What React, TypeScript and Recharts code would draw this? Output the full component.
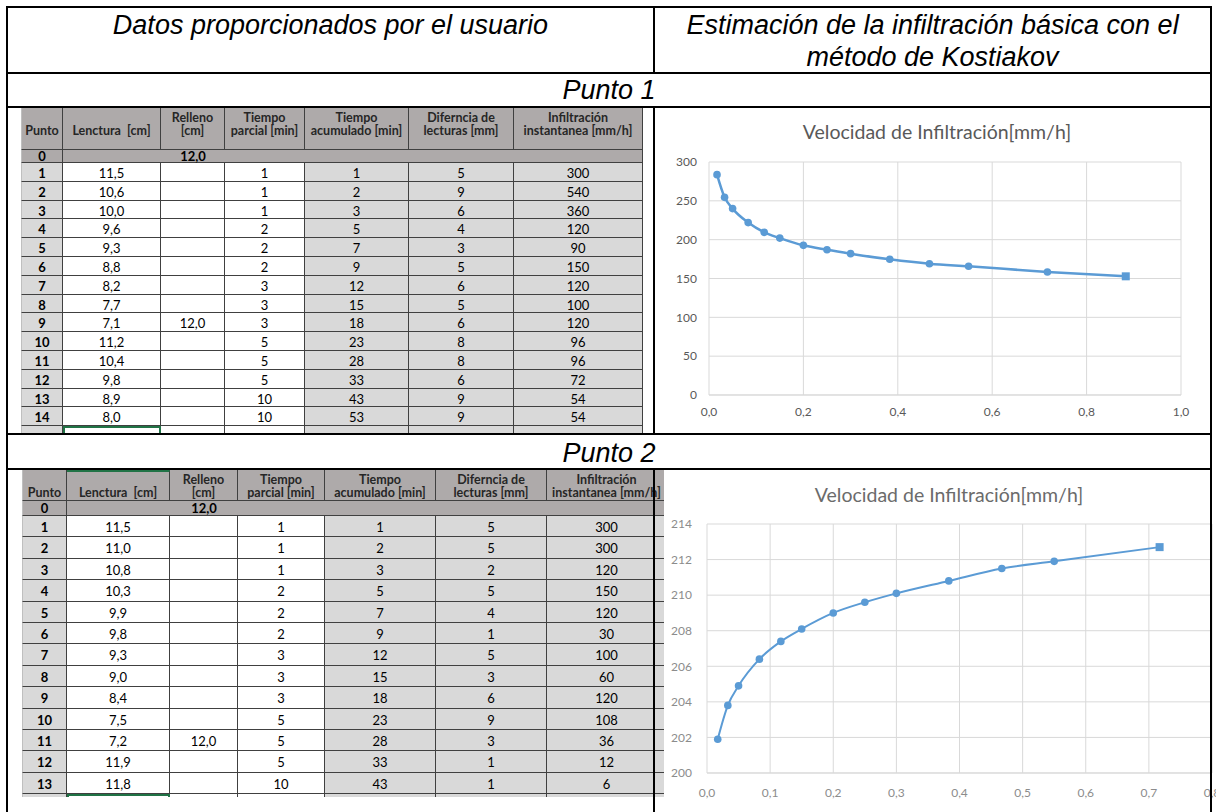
import React from "react";
import { CartesianGrid, Line, LineChart, XAxis, YAxis } from "recharts";

// ---- Punto 1 table ----
const p1Lectura = ["11,5", "10,6", "10,0", "9,6", "9,3", "8,8", "8,2", "7,7", "7,1", "11,2", "10,4", "9,8", "8,9", "8,0"];
const p1Relleno = ["", "", "", "", "", "", "", "", "12,0", "", "", "", "", ""];
const p1Parcial = [1, 1, 1, 2, 2, 2, 3, 3, 3, 5, 5, 5, 10, 10];
const p1Acumulado = [1, 2, 3, 5, 7, 9, 12, 15, 18, 23, 28, 33, 43, 53];
const p1Diferencia = [5, 9, 6, 4, 3, 5, 6, 5, 6, 8, 8, 6, 9, 9];
const p1Infiltracion = [300, 540, 360, 120, 90, 150, 120, 100, 120, 96, 96, 72, 54, 54];

// ---- Punto 2 table ----
const p2Lectura = ["11,5", "11,0", "10,8", "10,3", "9,9", "9,8", "9,3", "9,0", "8,4", "7,5", "7,2", "11,9", "11,8"];
const p2Relleno = ["", "", "", "", "", "", "", "", "", "", "12,0", "", ""];
const p2Parcial = [1, 1, 1, 2, 2, 2, 3, 3, 3, 5, 5, 5, 10];
const p2Acumulado = [1, 2, 3, 5, 7, 9, 12, 15, 18, 23, 28, 33, 43];
const p2Diferencia = [5, 5, 2, 5, 4, 1, 5, 3, 6, 9, 3, 1, 1];
const p2Infiltracion = [300, 300, 120, 150, 120, 30, 100, 60, 120, 108, 36, 12, 6];

// ---- chart series (time in hours, rate in mm/h) ----
const p1Hours = [0.017, 0.033, 0.05, 0.083, 0.117, 0.15, 0.2, 0.25, 0.3, 0.383, 0.467, 0.55, 0.717, 0.883];
const p1Rate = [283.7, 254.5, 240, 222, 209.4, 202, 192.7, 187, 182, 174.7, 169, 165.7, 158.4, 152.8];
const p2Hours = [0.017, 0.033, 0.05, 0.083, 0.117, 0.15, 0.2, 0.25, 0.3, 0.383, 0.467, 0.55, 0.717];
const p2Rate = [201.9, 203.8, 204.9, 206.4, 207.4, 208.1, 209.0, 209.6, 210.1, 210.8, 211.5, 211.9, 212.7];

const p1XTicks = [0, 0.2, 0.4, 0.6, 0.8, 1.0];
const p1YTicks = [0, 50, 100, 150, 200, 250, 300];
const p2XTicks = [0, 0.1, 0.2, 0.3, 0.4, 0.5, 0.6, 0.7, 0.8];
const p2YTicks = [200, 202, 204, 206, 208, 210, 212, 214];

const headers = [
  ["Punto"],
  ["Lenctura  [cm]"],
  ["Relleno", "[cm]"],
  ["Tiempo", "parcial [min]"],
  ["Tiempo", "acumulado [min]"],
  ["Diferncia de", "lecturas [mm]"],
  ["Infiltración", "instantanea [mm/h]"],
];

const BLUE = "#5b9bd5";
const HEAD_BG = "#aeaaaa";
const CELL_GRAY = "#d9d9d9";
const GRID = "#404040";
const TABLE_FONT = "Lato, 'Open Sans', sans-serif";

const commaFmt = (v: number) => v.toFixed(1).replace(".", ",");

type TableProps = {
  left: number;
  top: number;
  width: number;
  height: number;
  cols: number[];
  headH: number;
  headPad: number;
  row0H: number;
  rowH: number;
  rows: (string | number)[][];
  greenHead?: boolean;
};

function DataTable({ left, top, width, height, cols, headH, headPad, row0H, rowH, rows, greenHead }: TableProps) {
  const cell = (i: number, extra: React.CSSProperties = {}): React.CSSProperties => ({
    width: cols[i],
    flex: "none",
    boxSizing: "border-box",
    borderRight: `1px solid ${GRID}`,
    borderBottom: `1px solid ${GRID}`,
    borderLeft: i === 0 ? "1px solid #bfbfbf" : undefined,
    textAlign: "center",
    ...extra,
  });
  return (
    <div
      style={{
        position: "absolute",
        left,
        top,
        width,
        height,
        overflow: "hidden",
        fontFamily: TABLE_FONT,
        fontSize: 13,
        color: "#000",
      }}
    >
      <div style={{ display: "flex", height: headH }}>
        {headers.map((lines, i) => (
          <div
            key={i}
            style={cell(i, {
              background: HEAD_BG,
              display: "flex",
              flexDirection: "column",
              justifyContent: "flex-end",
              paddingBottom: headPad,
              fontWeight: 700,
              fontSize: 12.5,
              color: "#262626",
              lineHeight: "13px",
              whiteSpace: "pre",
              borderTop: greenHead && i === 1 ? "2px solid #217346" : undefined,
            })}
          >
            {lines.map((l, j) => (
              <div key={j}>{l}</div>
            ))}
          </div>
        ))}
      </div>
      <div style={{ display: "flex", height: row0H, lineHeight: `${row0H - 1}px`, background: HEAD_BG, fontWeight: 700 }}>
        <div style={cell(0)}>0</div>
        <div style={cell(1, { borderRight: "none" })} />
        <div style={cell(2, { borderRight: "none" })}>12,0</div>
        <div style={cell(3, { borderRight: "none" })} />
        <div style={cell(4, { borderRight: "none" })} />
        <div style={cell(5, { borderRight: "none" })} />
        <div style={cell(6)} />
      </div>
      {rows.map((r, ri) => (
        <div key={ri} style={{ display: "flex", height: rowH, lineHeight: `${rowH}px` }}>
          {r.map((v, ci) => (
            <div
              key={ci}
              style={cell(ci, {
                background: ci === 0 || ci >= 4 ? CELL_GRAY : "#fff",
                fontWeight: ci === 0 ? 700 : 400,
                paddingTop: 1,
              })}
            >
              {v}
            </div>
          ))}
        </div>
      ))}
      <div style={{ display: "flex", height: rowH }}>
        {cols.map((_, ci) => (
          <div
            key={ci}
            style={cell(ci, {
              background: ci === 0 || ci >= 4 ? CELL_GRAY : "#fff",
              borderTop: ci === 1 ? "2px solid #217346" : undefined,
              borderLeft: ci === 1 ? "2px solid #217346" : ci === 0 ? "1px solid #bfbfbf" : undefined,
              borderRight: ci === 1 ? "2px solid #217346" : `1px solid ${GRID}`,
            })}
          />
        ))}
      </div>
    </div>
  );
}

const dotRenderer = (last: number, r: number, sq: number) => (props: any) => {
  const { cx, cy, index } = props;
  if (cx == null || cy == null) return <g key={`d${index}`} />;
  if (index === last) {
    return <rect key={`d${index}`} x={cx - sq / 2} y={cy - sq / 2} width={sq} height={sq} fill={BLUE} />;
  }
  return <circle key={`d${index}`} cx={cx} cy={cy} r={r} fill={BLUE} />;
};

type ChartProps = {
  left: number;
  top: number;
  width: number;
  height: number;
  hours: number[];
  rate: number[];
  xTicks: number[];
  yTicks: number[];
  yWidth: number;
  margin: { top: number; right: number; bottom: number; left: number };
  xTickMargin: number;
  yTickMargin: number;
  tickColor: string;
  titleColor: string;
  titleX: number;
  titleY: number;
  strokeWidth: number;
};

function RateChart(p: ChartProps) {
  const data = p.hours.map((x, i) => ({ x, y: p.rate[i] }));
  const tick = { fill: p.tickColor, fontSize: 12, fontFamily: TABLE_FONT };
  return (
    <div style={{ position: "absolute", left: p.left, top: p.top, width: p.width, height: p.height, background: "#fff" }}>
      <div
        style={{
          position: "absolute",
          left: p.titleX - 200,
          width: 400,
          top: p.titleY - 12,
          textAlign: "center",
          fontFamily: TABLE_FONT,
          fontSize: 19.5,
          lineHeight: "24px",
          color: p.titleColor,
        }}
      >
        Velocidad de Infiltración[mm/h]
      </div>
      <LineChart width={p.width} height={p.height} data={data} margin={p.margin}>
        <CartesianGrid stroke="#d9d9d9" strokeWidth={1} />
        <XAxis
          type="number"
          dataKey="x"
          domain={[p.xTicks[0], p.xTicks[p.xTicks.length - 1]]}
          ticks={p.xTicks}
          interval={0}
          tickFormatter={commaFmt}
          tick={tick}
          tickLine={false}
          tickMargin={p.xTickMargin}
          axisLine={{ stroke: "#d9d9d9" }}
          allowDataOverflow
        />
        <YAxis
          type="number"
          domain={[p.yTicks[0], p.yTicks[p.yTicks.length - 1]]}
          ticks={p.yTicks}
          interval={0}
          width={p.yWidth}
          tick={tick}
          tickLine={false}
          tickMargin={p.yTickMargin}
          axisLine={false}
        />
        <Line
          type="monotone"
          dataKey="y"
          stroke={BLUE}
          strokeWidth={p.strokeWidth}
          dot={dotRenderer(data.length - 1, 3.8, 8)}
          activeDot={false}
          isAnimationActive={false}
        />
      </LineChart>
    </div>
  );
}

const HL = ({ y, x1 = 6, x2 = 1212 }: { y: number; x1?: number; x2?: number }) => (
  <div style={{ position: "absolute", left: x1, top: y, width: x2 - x1, height: 2, background: "#000" }} />
);
const VL = ({ x, y1, y2 }: { x: number; y1: number; y2: number }) => (
  <div style={{ position: "absolute", left: x, top: y1, width: 2, height: y2 - y1, background: "#000" }} />
);

const titleStyle: React.CSSProperties = {
  position: "absolute",
  fontFamily: "'Liberation Sans', Arial, sans-serif",
  fontStyle: "italic",
  fontSize: 27,
  lineHeight: "32px",
  color: "#000",
  textAlign: "center",
  whiteSpace: "nowrap",
};

export default function App() {
  const rows1 = p1Lectura.map((l, i) => [i + 1, l, p1Relleno[i], p1Parcial[i], p1Acumulado[i], p1Diferencia[i], p1Infiltracion[i]]);
  const rows2 = p2Lectura.map((l, i) => [i + 1, l, p2Relleno[i], p2Parcial[i], p2Acumulado[i], p2Diferencia[i], p2Infiltracion[i]]);
  return (
    <div style={{ position: "absolute", left: 0, top: 0, width: 1216, height: 812, overflow: "hidden", background: "#fff" }}>
      <div style={{ ...titleStyle, left: 8, width: 645, top: 9 }}>Datos proporcionados por el usuario</div>
      <div style={{ ...titleStyle, left: 655, width: 555, top: 9 }}>Estimación de la infiltración básica con el</div>
      <div style={{ ...titleStyle, left: 655, width: 555, top: 41 }}>método de Kostiakov</div>
      <div style={{ ...titleStyle, left: 8, width: 1202, top: 74 }}>Punto 1</div>
      <div style={{ ...titleStyle, left: 8, width: 1202, top: 437 }}>Punto 2</div>

      <DataTable
        left={21}
        top={108}
        width={622}
        height={325}
        cols={[42, 98, 64, 80, 104, 105, 129]}
        headH={42}
        headPad={12}
        row0H={13}
        rowH={18.8}
        rows={rows1}
      />
      <DataTable
        left={22}
        top={470}
        width={642}
        height={327}
        cols={[45, 103, 68, 87, 111, 111, 120]}
        headH={31}
        headPad={1}
        row0H={15}
        rowH={21.4}
        rows={rows2}
        greenHead
      />

      <RateChart
        left={656}
        top={109}
        width={554}
        height={324}
        hours={p1Hours}
        rate={p1Rate}
        xTicks={p1XTicks}
        yTicks={p1YTicks}
        yWidth={53}
        margin={{ top: 53, right: 29, bottom: 8, left: 0 }}
        xTickMargin={6}
        yTickMargin={6}
        tickColor="#595959"
        titleColor="#595959"
        titleX={281}
        titleY={23}
        strokeWidth={2.5}
      />
      <RateChart
        left={664}
        top={470}
        width={552}
        height={342}
        hours={p2Hours}
        rate={p2Rate}
        xTicks={p2XTicks}
        yTicks={p2YTicks}
        yWidth={43}
        margin={{ top: 54, right: 4, bottom: 9, left: 0 }}
        xTickMargin={9}
        yTickMargin={9}
        tickColor="#8c8c8c"
        titleColor="#6b6b6b"
        titleX={285}
        titleY={25}
        strokeWidth={2}
      />

      <HL y={6} />
      <HL y={72} />
      <HL y={106} />
      <HL y={433} />
      <HL y={468} />
      <VL x={6} y1={6} y2={812} />
      <VL x={1210} y1={6} y2={812} />
      <VL x={653} y1={6} y2={73} />
      <VL x={653} y1={107} y2={434} />
      <VL x={653} y1={469} y2={812} />
    </div>
  );
}
